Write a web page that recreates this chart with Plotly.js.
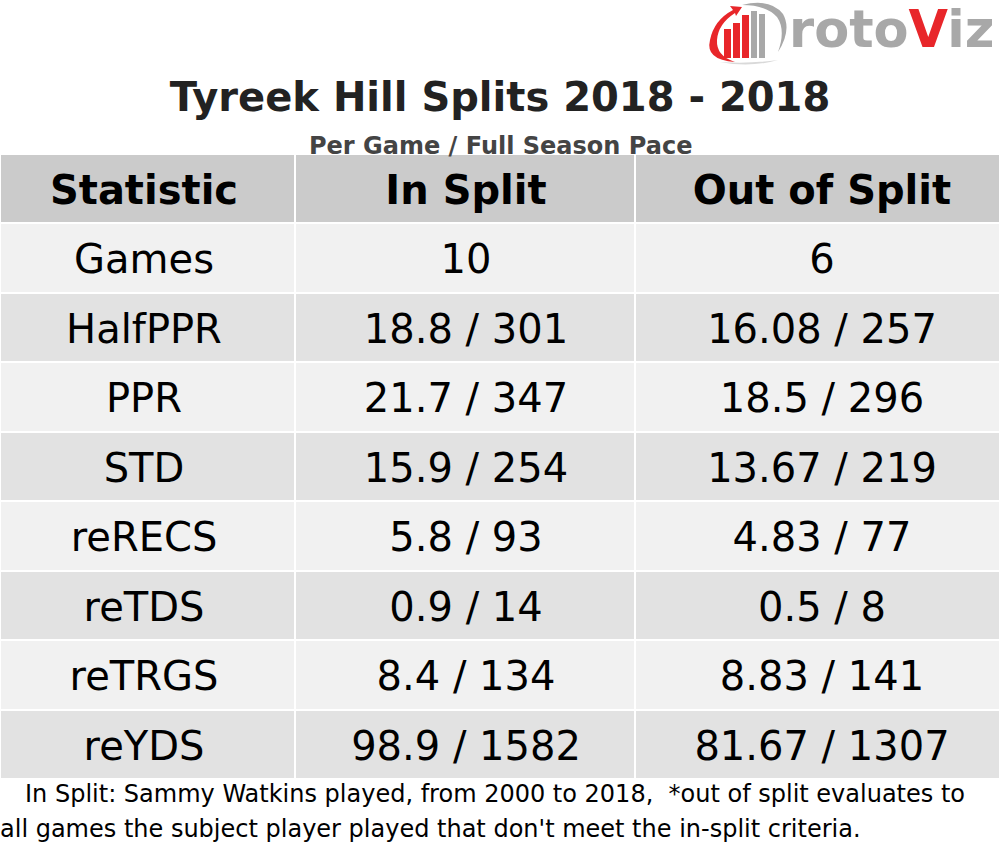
<!DOCTYPE html>
<html>
<head>
<meta charset="utf-8">
<script src="https://cdn.plot.ly/plotly-3.0.1.min.js"></script>
<style>html,body{margin:0;padding:0;background:#fff;}#chart{width:1000px;height:864px;}</style>
</head>
<body>
<div id="chart"></div>
<script>
// ---- data ----
const headers = ["Statistic", "In Split", "Out of Split"];
const statistics = ["Games", "HalfPPR", "PPR", "STD", "reRECS", "reTDS", "reTRGS", "reYDS"];
const inSplit = ["10", "18.8 / 301", "21.7 / 347", "15.9 / 254", "5.8 / 93", "0.9 / 14", "8.4 / 134", "98.9 / 1582"];
const outOfSplit = ["6", "16.08 / 257", "18.5 / 296", "13.67 / 219", "4.83 / 77", "0.5 / 8", "8.83 / 141", "81.67 / 1307"];
const titleText = "Tyreek Hill Splits 2018 - 2018";
const subtitleText = "Per Game / Full Season Pace";
const footLine1 = "In Split: Sammy Watkins played, from 2000 to 2018,  *out of split evaluates to";
const footLine2 = "all games the subject player played that don't meet the in-split criteria.";

// ---- layout helpers ----
const W = 1000, H = 864;
const fx = x => x / W;
const fy = y => 1 - y / H;
const FONT = "DejaVu Sans, sans-serif";

const rowColors = statistics.map((_, i) => i % 2 === 0 ? "#f1f1f1" : "#e2e2e2");
const fillCols = [rowColors, rowColors, rowColors];
const colWidths = [295, 340, 365];
const textColWidths = [288, 356, 356];

const tableTop = 154, tableBottom = 780;
const headH = 69, rowH = 69.5;
const blank = arr => arr.map(() => "");

// table: cell backgrounds and borders
const gridTrace = {
  type: "table",
  domain: {x: [0, 1], y: [fy(tableBottom), fy(tableTop)]},
  columnwidth: colWidths,
  header: {
    values: blank(headers),
    align: "center", height: headH,
    fill: {color: "#cbcbcb"},
    line: {color: "#ffffff", width: 2},
    font: {family: FONT, size: 40, color: "#000"}
  },
  cells: {
    values: [blank(statistics), blank(inSplit), blank(outOfSplit)],
    align: "center", height: rowH,
    fill: {color: fillCols},
    line: {color: "#ffffff", width: 2},
    font: {family: FONT, size: 40, color: "#000"}
  }
};

// same table drawing the texts (transparent cells), nudged so the text is vertically centred
const headShift = 5, bodyShift = 12;
const textTrace = {
  type: "table",
  domain: {x: [0, 1], y: [fy(tableBottom + bodyShift), fy(tableTop + headShift)]},
  columnwidth: textColWidths,
  header: {
    values: headers.map(h => "<b>" + h + "</b>"),
    align: "center", height: headH + (bodyShift - headShift),
    fill: {color: "rgba(0,0,0,0)"},
    line: {color: "rgba(0,0,0,0)", width: 0},
    font: {family: FONT, size: 40, color: "#000"}
  },
  cells: {
    values: [statistics, inSplit, outOfSplit],
    align: "center", height: rowH,
    fill: {color: "rgba(0,0,0,0)"},
    line: {color: "rgba(0,0,0,0)", width: 0},
    font: {family: FONT, size: 40, color: "#000"}
  }
};

// logo shapes (decoration)
const shapes = [];
const bars = [
  {x0: 724, x1: 731, y0: 29, col: "#e8262a"},
  {x0: 733, x1: 740, y0: 23, col: "#e8262a"},
  {x0: 742, x1: 749, y0: 15, col: "#e8262a"},
  {x0: 751, x1: 757, y0: 11, col: "#a8a8a8"},
  {x0: 759, x1: 765, y0: 14, col: "#a8a8a8"}
];
bars.forEach(b => shapes.push({type: "rect", xref: "paper", yref: "paper",
  x0: fx(b.x0), x1: fx(b.x1), y0: fy(58), y1: fy(b.y0), fillcolor: b.col, line: {width: 0}}));
function pathStr(cmds) {
  return cmds.map(c => c[0] + " " + c.slice(1).map((v, i) => (i % 2 === 0 ? fx(v) : fy(v)).toFixed(5)).join(" ")).join(" ");
}
shapes.push({type: "path", xref: "paper", yref: "paper", fillcolor: "#e8262a", line: {width: 0},
  path: pathStr([["M", 735, 62], ["Q", 705, 60, 710, 40], ["Q", 714, 20, 733, 10], ["L", 730, 6], ["L", 742, 7], ["L", 736, 16], ["L", 735, 13], ["Q", 718, 24, 717, 40], ["Q", 716, 56, 735, 62], ["Z"]])});
shapes.push({type: "path", xref: "paper", yref: "paper", fillcolor: "#a8a8a8", line: {width: 0},
  path: pathStr([["M", 742, 5], ["Q", 770, -2, 783, 14], ["Q", 792, 30, 778, 52], ["Q", 786, 30, 777, 17], ["Q", 766, 5, 742, 5], ["Z"]])});
shapes.push({type: "path", xref: "paper", yref: "paper", fillcolor: "#d9d9d9", line: {width: 0},
  path: pathStr([["M", 720, 62], ["Q", 750, 68, 778, 60], ["Q", 750, 64, 720, 62], ["Z"]])});

const layout = {
  width: W, height: H,
  margin: {l: 0, r: 0, t: 0, b: 0},
  paper_bgcolor: "#ffffff",
  showlegend: false,
  title: {
    text: "<b>" + titleText + "</b>",
    font: {family: FONT, size: 40, color: "#222222"},
    x: 0.5, xanchor: "center", xref: "paper",
    y: fy(97), yanchor: "middle", yref: "container"
  },
  shapes: shapes,
  annotations: [
    {text: "<b>" + subtitleText + "</b>", xref: "paper", yref: "paper", x: 0.5, y: fy(146),
     xanchor: "center", yanchor: "middle", showarrow: false,
     font: {family: FONT, size: 24, color: "#444444"}},
    {text: "<b>roto<span style='color:#e8262a'>V</span>iz</b>", xref: "paper", yref: "paper",
     x: fx(787), y: fy(30), xanchor: "left", yanchor: "middle", showarrow: false,
     font: {family: FONT, size: 51, color: "#a8a8a8"}},
    {text: footLine1, xref: "paper", yref: "paper", x: fx(23), y: fy(794),
     xanchor: "left", yanchor: "middle", showarrow: false,
     font: {family: FONT, size: 24, color: "#000"}},
    {text: footLine2, xref: "paper", yref: "paper", x: fx(-2), y: fy(829),
     xanchor: "left", yanchor: "middle", showarrow: false,
     font: {family: FONT, size: 24, color: "#000"}}
  ]
};

Plotly.newPlot("chart", [gridTrace, textTrace], layout, {displayModeBar: false, staticPlot: true});
</script>
</body>
</html>
